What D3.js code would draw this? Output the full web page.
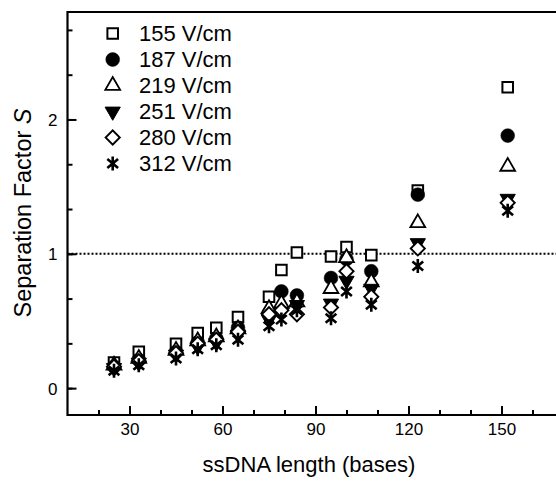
<!DOCTYPE html>
<html><head><meta charset="utf-8">
<script src="https://cdn.jsdelivr.net/npm/d3@7"></script>
<style>body{margin:0;background:#fff}svg{display:block}</style>
</head><body>
<svg id="c" width="556" height="481"></svg>
<script>
const lengths = [25, 33, 45, 52, 58, 65, 75, 79, 84, 95, 100, 108, 123, 152];
const seriesNames = ["155 V/cm", "187 V/cm", "219 V/cm", "251 V/cm", "280 V/cm", "312 V/cm"];
const s155 = [0.19, 0.27, 0.33, 0.41, 0.45, 0.53, 0.68, 0.88, 1.01, 0.98, 1.05, 0.99, 1.47, 2.24];
const s187 = [0.16, 0.21, 0.27, 0.34, 0.37, 0.45, 0.56, 0.72, 0.69, 0.82, 0.96, 0.87, 1.44, 1.88];
const s219 = [0.17, 0.22, 0.28, 0.35, 0.38, 0.44, 0.59, 0.63, 0.64, 0.74, 0.97, 0.79, 1.23, 1.65];
const s251 = [0.15, 0.19, 0.25, 0.31, 0.34, 0.40, 0.51, 0.57, 0.62, 0.63, 0.80, 0.74, 1.08, 1.41];
const s280 = [0.16, 0.20, 0.26, 0.33, 0.36, 0.42, 0.55, 0.58, 0.55, 0.60, 0.87, 0.68, 1.04, 1.38];
const s312 = [0.13, 0.17, 0.22, 0.29, 0.32, 0.36, 0.46, 0.51, 0.58, 0.52, 0.72, 0.62, 0.91, 1.32];
const xTicks = [30, 60, 90, 120, 150];
const yTicks = [0, 1, 2];
const refLine = 1;

const series = [s155, s187, s219, s251, s280, s312];
const svg = d3.select("#c");
const x = d3.scaleLinear().domain([10, 170]).range([67.5, 563.5]);
const y = d3.scaleLinear().domain([-0.2, 2.8]).range([415, 12]);
const font = "Liberation Sans, Arial, sans-serif";

const asterisk = {draw(ctx, size){ const r = Math.sqrt(size)/2;
  ctx.moveTo(0,-r); ctx.lineTo(0,r);
  const a = r*Math.cos(Math.PI*40/180), b = r*Math.sin(Math.PI*40/180);
  ctx.moveTo(-a,-b); ctx.lineTo(a,b);
  ctx.moveTo(-a,b); ctx.lineTo(a,-b);
}};
const styles = [
  {type: d3.symbolSquare, size: 112, fill: "#fff", stroke: "#000", sw: 2, rot: 0},
  {type: d3.symbolCircle, size: 150, fill: "#000", stroke: "#000", sw: 0.5, rot: 0},
  {type: d3.symbolTriangle, size: 95, fill: "#fff", stroke: "#000", sw: 1.8, rot: 0},
  {type: d3.symbolTriangle, size: 100, fill: "#000", stroke: "#000", sw: 1, rot: 180},
  {type: d3.symbolSquare, size: 100, fill: "#fff", stroke: "#000", sw: 1.9, rot: 45},
  {type: asterisk, size: 196, fill: "none", stroke: "#000", sw: 2.6, rot: 0}
];
function mark(g, st){
  g.attr("d", d3.symbol().type(st.type).size(st.size)())
   .attr("fill", st.fill).attr("stroke", st.stroke).attr("stroke-width", st.sw);
}

svg.append("line").attr("x1", x(10)).attr("x2", 556).attr("y1", y(refLine)).attr("y2", y(refLine))
  .attr("stroke", "#000").attr("stroke-width", 2).attr("stroke-dasharray", "2,2");

series.forEach((vals, si) => {
  const st = styles[si];
  svg.append("g").selectAll("path").data(vals).join("path")
    .attr("transform", (d, i) => `translate(${x(lengths[i])},${y(d)}) rotate(${st.rot})`)
    .each(function(){ mark(d3.select(this), st); });
});

const xAxisMinor = d3.axisTop(x).tickValues(d3.range(20, 170, 10)).tickSize(5).tickFormat("");
const xAxis = d3.axisTop(x).tickValues(xTicks).tickSize(9).tickFormat(d3.format("d"));
const yAxisMinor = d3.axisRight(y).tickValues(d3.range(0, 9).map(k => k/3)).tickSize(5).tickFormat("");
const yAxis = d3.axisRight(y).tickValues(yTicks).tickSize(9).tickFormat(d3.format("d"));

function styleAxis(g){ g.select(".domain").remove(); g.selectAll("line").attr("stroke","#000").attr("stroke-width",2); }
svg.append("g").attr("transform", `translate(0,${y(-0.2)})`).call(xAxisMinor).call(styleAxis);
const gx = svg.append("g").attr("transform", `translate(0,${y(-0.2)})`).call(xAxis).call(styleAxis);
gx.selectAll("text").attr("y", 20).attr("dy", 0).attr("font-size", 17).attr("font-family", font).attr("fill","#000");
svg.append("g").attr("transform", `translate(${x(10)},0)`).call(yAxisMinor).call(styleAxis);
const gy = svg.append("g").attr("transform", `translate(${x(10)},0)`).call(yAxis).call(styleAxis);
gy.selectAll("text").attr("x", -10).attr("dy", "0.35em").attr("text-anchor", "end")
  .attr("font-size", 17).attr("font-family", font).attr("fill","#000");

svg.append("path").attr("d", `M556,${y(2.8)}H${x(10)}V${y(-0.2)}H556`)
  .attr("fill","none").attr("stroke","#000").attr("stroke-width",2.2);

svg.append("text").attr("x", 309).attr("y", 472).attr("text-anchor","middle")
  .attr("font-size", 22).attr("font-family", font).text("ssDNA length (bases)");
const yl = svg.append("text").attr("transform", "translate(31,213) rotate(-90)").attr("text-anchor","middle")
  .attr("font-size", 23.5).attr("font-family", font);
yl.append("tspan").text("Separation Factor ");
yl.append("tspan").attr("font-style","italic").text("S");

const lg = svg.append("g");
seriesNames.forEach((name, i) => {
  const yy = 33.5 + i*26;
  const st = styles[i];
  lg.append("path").attr("transform", `translate(112.7,${yy}) rotate(${st.rot})`).call(p => mark(p, st));
  lg.append("text").attr("x", 139).attr("y", yy).attr("dy","0.36em").attr("font-size", 22)
    .attr("font-family", font).text(name);
});
</script>
</body></html>
